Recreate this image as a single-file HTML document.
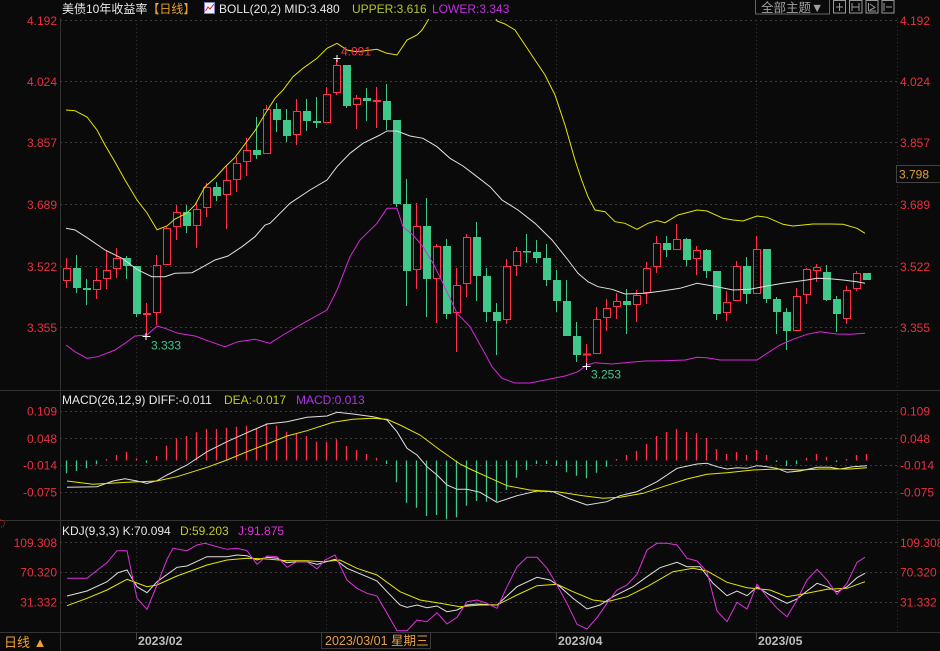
<!DOCTYPE html>
<html><head><meta charset="utf-8"><style>
html,body{margin:0;padding:0;background:#0a0a0a;}
svg{display:block;}
text{font-family:"Liberation Sans","Noto Sans CJK SC",sans-serif;font-size:12px;}
</style></head><body>
<svg width="940" height="651" viewBox="0 0 940 651" xmlns="http://www.w3.org/2000/svg">
<defs><clipPath id="cm"><rect x="60" y="19" width="837" height="371"/></clipPath>
<clipPath id="ck"><rect x="60" y="521" width="837" height="111"/></clipPath></defs>
<rect width="940" height="651" fill="#0a0a0a"/>
<!-- separators -->
<g stroke="#333" stroke-width="1" fill="none">
<path d="M0 390.5H940M0 520.5H940M0 632.5H940M60.5 18V651"/>
</g>
<!-- horizontal dashed grid -->
<g stroke="#3c3c3c" stroke-width="1" stroke-dasharray="2,3" fill="none">
<path d="M60 20.5H897M60 81.5H897M60 142.5H897M60 204.5H897M60 266.5H897M60 327.5H897"/>
<path d="M60 411.5H897M60 438.5H897M60 465.5H897M60 492.5H897"/>
<path d="M60 542.5H897M60 572.5H897M60 602.5H897"/>
</g>
<!-- vertical dotted grid -->
<g stroke="#333" stroke-width="1" stroke-dasharray="1,3" fill="none">
<path d="M136.5 20V632M326.5 20V632M556.5 20V632M756.5 20V632M897.5 18V632"/>
</g>
<g stroke="#444" stroke-width="1"><path d="M136.5 632V640M326.5 632V640M556.5 632V640M756.5 632V640"/></g>

<!-- header -->
<text x="62" y="13" fill="#e8e8e8">美债10年收益率<tspan fill="#e8a030">【日线】</tspan></text>
<rect x="204.5" y="2.5" width="10" height="11" fill="#f0f0ff" stroke="#8080c0"/>
<polyline points="205.5,11 208,7 210,9 214,4" fill="none" stroke="#e02020" stroke-width="1"/>
<text x="219" y="13" fill="#e8e8e8">BOLL(20,2) MID:3.480</text>
<text x="352" y="13" fill="#b8c428">UPPER:3.616</text>
<text x="432" y="13" fill="#c030e0">LOWER:3.343</text>
<rect x="755.5" y="-0.5" width="74" height="14.5" fill="none" stroke="#666"/>
<text x="761" y="12" fill="#a0a0a0" style="font-size:12.5px">全部主题▼</text>
<g fill="none" stroke="#999">
<rect x="833.5" y="0.5" width="12" height="12.5"/><rect x="849.5" y="0.5" width="12.5" height="12.5"/><rect x="866" y="0.5" width="12" height="12.5"/><rect x="882" y="0.5" width="12" height="12.5"/>
<path d="M839.5 3V11M836 7H843M852 3V11M859 3V11M852 7H859M868.5 3V11M868.5 11H876M870 4L875 7.5L870 10M884 3V11M886 7H892"/>
</g>

<!-- left axis labels -->
<g fill="#e8303f" text-anchor="end">
<text x="57" y="24.8">4.192</text><text x="57" y="85.8">4.024</text><text x="57" y="146.8">3.857</text><text x="57" y="208.8">3.689</text><text x="57" y="270.8">3.522</text><text x="57" y="331.8">3.355</text>
<text x="57" y="415.3">0.109</text><text x="57" y="442.8">0.048</text><text x="57" y="469.3">-0.014</text><text x="57" y="496.6">-0.075</text>
<text x="57" y="546.8">109.308</text><text x="57" y="576.6">70.320</text><text x="57" y="606.3">31.332</text>
</g>
<!-- right axis labels -->
<g fill="#e8303f">
<text x="900" y="24.8">4.192</text><text x="900" y="85.8">4.024</text><text x="900" y="146.8">3.857</text><text x="900" y="208.8">3.689</text><text x="900" y="270.8">3.522</text><text x="900" y="331.8">3.355</text>
<text x="900" y="415.3">0.109</text><text x="900" y="442.8">0.048</text><text x="900" y="469.3">-0.014</text><text x="900" y="496.6">-0.075</text>
<text x="900" y="546.8">109.308</text><text x="900" y="576.6">70.320</text><text x="900" y="606.3">31.332</text>
</g>
<rect x="896.5" y="165.5" width="44" height="17" fill="#0a0a0a" stroke="#444"/>
<text x="899" y="178.3" fill="#e8a030">3.798</text>

<!-- candles -->
<g clip-path="url(#cm)">
<path fill="none" stroke="#3ec98a" stroke-width="1" d="M76.5 255V293M86.5 279V305M126.5 256V279M136.5 266V317M186.5 205V233M216.5 182V201M256.5 117V159M276.5 103V132M286.5 109V142M306.5 99V131M316.5 97V128M346.5 65V108M366.5 88V121M386.5 84V130M396.5 120V207M406.5 179V306M426.5 198V317M446.5 239V319M476.5 222V301M486.5 268V322M496.5 303V355M526.5 234V263M536.5 240V263M546.5 244V286M556.5 270V312M566.5 280V336M576.5 322V362M626.5 289V334M666.5 236V257M686.5 238V266M706.5 249V278M716.5 271V320M746.5 257V304M766.5 249V303M776.5 297V334M786.5 308V350M826.5 265V301M836.5 296V332"/>
<g fill="#3ec98a">
<rect x="73" y="268" width="8" height="20"/><rect x="83" y="288" width="8" height="2"/><rect x="123" y="258" width="8" height="8"/><rect x="133" y="266" width="8" height="48"/><rect x="183" y="212" width="8" height="14"/><rect x="213" y="187" width="8" height="9"/><rect x="253" y="150" width="8" height="5"/><rect x="273" y="109" width="8" height="11"/><rect x="283" y="120" width="8" height="16"/><rect x="303" y="111" width="8" height="10"/><rect x="313" y="121" width="8" height="2"/><rect x="343" y="65" width="8" height="41"/><rect x="363" y="98" width="8" height="3"/><rect x="383" y="101" width="8" height="19"/><rect x="393" y="120" width="8" height="84"/><rect x="403" y="204" width="8" height="67"/><rect x="423" y="226" width="8" height="53"/><rect x="443" y="246" width="8" height="68"/><rect x="473" y="237" width="8" height="39"/><rect x="483" y="276" width="8" height="36"/><rect x="493" y="312" width="8" height="9"/><rect x="523" y="251" width="8" height="1.5"/><rect x="533" y="252" width="8" height="6"/><rect x="543" y="258" width="8" height="22"/><rect x="553" y="280" width="8" height="21"/><rect x="563" y="301" width="8" height="35"/><rect x="573" y="336" width="8" height="19"/><rect x="623" y="301" width="8" height="4"/><rect x="663" y="243" width="8" height="7"/><rect x="683" y="239" width="8" height="21"/><rect x="703" y="250" width="8" height="21"/><rect x="713" y="271" width="8" height="43"/><rect x="743" y="266" width="8" height="28"/><rect x="763" y="249" width="8" height="50"/><rect x="773" y="299" width="8" height="13"/><rect x="783" y="312" width="8" height="19"/><rect x="823" y="272" width="8" height="28"/><rect x="833" y="299" width="8" height="15"/><rect x="863" y="273" width="8" height="7"/>
</g>
<path fill="none" stroke="#ff3048" stroke-width="1" d="M66.5 258V268M66.5 281V288M96.5 268V280M96.5 290V299M106.5 251V270M106.5 279V289M116.5 248V258M116.5 269V278M146.5 303V337M156.5 255V265M156.5 313V325M166.5 227V228M176.5 205V212M176.5 227V240M196.5 203V209M196.5 226V248M206.5 183V187M206.5 208V217M226.5 165V180M226.5 195V229M236.5 157V163M236.5 180V192M246.5 138V150M246.5 162V176M266.5 105V109M296.5 99V111M296.5 135V145M326.5 87V94M336.5 60V65M336.5 93V95M356.5 95V98M356.5 105V129M376.5 87V128M416.5 203V226M416.5 270V289M436.5 244V246M436.5 279V323M456.5 268V285M456.5 313V352M466.5 234V237M466.5 284V297M506.5 259V266M506.5 320V324M516.5 247V251M516.5 266V276M586.5 344V365M596.5 307V319M606.5 299V308M606.5 318V331M616.5 293V301M616.5 307V319M636.5 290V295M636.5 305V322M646.5 262V268M646.5 293V304M656.5 236V243M656.5 267V273M676.5 224V239M696.5 246V250M696.5 259V275M726.5 291V302M726.5 313V321M736.5 261V266M756.5 236V249M796.5 288V296M806.5 268V269M806.5 295V304M816.5 264V268M816.5 270V282M846.5 286V290M846.5 319V324M856.5 271V273M856.5 289V291"/>
<g fill="none" stroke="#ff3048" stroke-width="1">
<rect x="63.5" y="268.5" width="7" height="12"/><rect x="93.5" y="280.5" width="7" height="9"/><rect x="103.5" y="270.5" width="7" height="8"/><rect x="113.5" y="258.5" width="7" height="10"/><rect x="153.5" y="265.5" width="7" height="47"/><rect x="163.5" y="228.5" width="7" height="36"/><rect x="173.5" y="212.5" width="7" height="14"/><rect x="193.5" y="209.5" width="7" height="16"/><rect x="203.5" y="187.5" width="7" height="20"/><rect x="223.5" y="180.5" width="7" height="14"/><rect x="233.5" y="163.5" width="7" height="16"/><rect x="243.5" y="150.5" width="7" height="11"/><rect x="263.5" y="109.5" width="7" height="44"/><rect x="293.5" y="111.5" width="7" height="23"/><rect x="323.5" y="94.5" width="7" height="28"/><rect x="333.5" y="65.5" width="7" height="27"/><rect x="353.5" y="98.5" width="7" height="6"/><rect x="413.5" y="226.5" width="7" height="43"/><rect x="433.5" y="246.5" width="7" height="32"/><rect x="453.5" y="285.5" width="7" height="27"/><rect x="463.5" y="237.5" width="7" height="46"/><rect x="503.5" y="266.5" width="7" height="53"/><rect x="513.5" y="251.5" width="7" height="14"/><rect x="593.5" y="319.5" width="7" height="34"/><rect x="603.5" y="308.5" width="7" height="9"/><rect x="613.5" y="301.5" width="7" height="5"/><rect x="633.5" y="295.5" width="7" height="9"/><rect x="643.5" y="268.5" width="7" height="24"/><rect x="653.5" y="243.5" width="7" height="23"/><rect x="673.5" y="239.5" width="7" height="10"/><rect x="693.5" y="250.5" width="7" height="8"/><rect x="723.5" y="302.5" width="7" height="10"/><rect x="733.5" y="266.5" width="7" height="34"/><rect x="753.5" y="249.5" width="7" height="44"/><rect x="793.5" y="296.5" width="7" height="34"/><rect x="803.5" y="269.5" width="7" height="25"/><rect x="813.5" y="267.5" width="7" height="3"/><rect x="843.5" y="290.5" width="7" height="28"/><rect x="853.5" y="273.5" width="7" height="15"/>
</g>
<g fill="#ff3048"><rect x="143" y="313" width="8" height="2"/><rect x="373" y="100" width="8" height="2"/><rect x="583" y="353.5" width="8" height="2"/></g>

<!-- BOLL lines -->
<polyline fill="none" stroke="#e6e600" stroke-width="1" points="66,110 75,110.7 87,117 97,130 105,145 115,162 125,180 137,200 147,213 157,229.7 167,226 175,219 187,213 195,205 205,186.7 215,178 225,167 235,157.3 245,144 255,130.7 265,114 275,98.3 283,90 293,76.7 303,68.3 317,58.3 327,48.3 337,43.3 347,50 357,51.7 377,49.3 387,53.3 397,55 407,40 417,35 422,30 427,22 435,8 450,-10 485,-10 492,10 497,21 505,24 515,30 525,45 535,60 545,75 555,95 565,125 575,160 582,181 588,196.7 595,210 605,211.7 615,221.7 625,223.3 637,229.3 648,223.3 657,220.7 665,222.7 678,215 697,210 707,211 723,218.3 733,220 743,221 757,216 767,217.3 783,224.3 793,226 813,224 830,224 843,224.3 857,228.3 865,233.3"/>
<polyline fill="none" stroke="#e0e0e0" stroke-width="1" points="66,228.3 75,230 88,238.3 105,250 122,258.3 138,270 152,276.7 165,276.7 175,273.3 192,272.7 202,267.3 215,260 228,256 242,246.7 255,236.7 265,225 270,223.3 290,203.3 310,190 327,180 337,166.7 350,153.3 363,143.3 380,135 387,131 397,131 410,136 423,138.3 437,146.7 450,158.3 463,166 477,176.7 490,186.7 502,200 518,210 535,223.3 552,240 568,260 578,273.3 588,281.7 598,286.7 612,289.3 625,294 645,293.3 662,291 680,288.3 697,283.3 713,286 733,290 750,289.3 767,286 783,283.3 807,280 817,278.3 830,278.7 843,280 857,281.7 865,283.3"/>
<polyline fill="none" stroke="#d828d8" stroke-width="1" points="66,345 75,351.7 87,358.3 98,356.7 115,350 125,343.3 135,336 147,335 157,326 165,328.3 178,333.3 195,336 212,342.3 225,346.7 238,341.7 255,339.3 270,343.3 283,335 303,323.3 327,310 337,290 350,256.7 360,240 377,223.3 387,208.3 397,208.3 403,226.7 413,235 423,246.7 433,263.3 443,283.3 457,313.3 470,326.7 483,350 492,366.7 502,378.3 515,383 530,383 550,379 565,376 578,371.7 587,365 595,362.7 612,364 625,362.7 645,361 665,360.7 685,360 697,357.3 707,357.7 720,360 757,360 767,353.3 780,345 793,339.3 807,334.3 820,331.7 837,334 850,334.3 865,333.3"/>
</g>
<!-- annotations -->
<text x="341" y="55.7" fill="#ff3048">4.091</text>
<path d="M333.5 58.5H340.5M337 55V62" stroke="#fff" stroke-width="1"/>
<text x="151" y="349.3" fill="#3ec98a">3.333</text>
<path d="M142.5 336.5H150.5M146 333V340" stroke="#fff" stroke-width="1"/>
<text x="591" y="378.7" fill="#3ec98a">3.253</text>
<path d="M582.5 366.5H590.5M586.5 363V370" stroke="#fff" stroke-width="1"/>

<!-- MACD -->
<text x="62" y="404" fill="#e8e8e8">MACD(26,12,9) DIFF:-0.011</text>
<text x="224" y="404" fill="#c8c820">DEA:-0.017</text>
<text x="296" y="404" fill="#b030e8">MACD:0.013</text>
<path fill="none" stroke="#ff3048" stroke-width="1.3" d="M106.5 460.5V459M116.5 460.5V455M126.5 460.5V451.7M136.5 460.5V458.3M156.5 460.5V456M166.5 460.5V445.7M176.5 460.5V438.3M186.5 460.5V436M196.5 460.5V432.3M206.5 460.5V429M216.5 460.5V429M226.5 460.5V427.7M236.5 460.5V426.7M246.5 460.5V425.7M256.5 460.5V428.3M266.5 460.5V423.3M276.5 460.5V425.7M286.5 460.5V431.7M296.5 460.5V433.3M306.5 460.5V436M316.5 460.5V441.7M326.5 460.5V441.7M336.5 460.5V439.3M346.5 460.5V446M356.5 460.5V450M366.5 460.5V454M376.5 460.5V457.7M616.5 460.5V459M626.5 460.5V455M636.5 460.5V451M646.5 460.5V444M656.5 460.5V436M666.5 460.5V432M676.5 460.5V429M686.5 460.5V432M696.5 460.5V433.3M706.5 460.5V438M716.5 460.5V449M726.5 460.5V454M736.5 460.5V452M746.5 460.5V455M756.5 460.5V450M766.5 460.5V455M806.5 460.5V457.7M816.5 460.5V454M826.5 460.5V456.7M846.5 460.5V459M856.5 460.5V455M866.5 460.5V454"/>
<path fill="none" stroke="#3ec98a" stroke-width="1.3" d="M66.5 460.5V473.3M76.5 460.5V471M86.5 460.5V468.3M96.5 460.5V464.3M146.5 460.5V462.7M386.5 460.5V464M396.5 460.5V482.3M406.5 460.5V502.7M416.5 460.5V507.7M426.5 460.5V516M436.5 460.5V515M446.5 460.5V519.3M456.5 460.5V517.3M466.5 460.5V505.7M476.5 460.5V501M486.5 460.5V501.7M496.5 460.5V501M506.5 460.5V490M516.5 460.5V477.7M526.5 460.5V470M536.5 460.5V464M546.5 460.5V464M556.5 460.5V466M566.5 460.5V472.3M576.5 460.5V475.7M586.5 460.5V478.3M596.5 460.5V472.7M606.5 460.5V466.7M776.5 460.5V462M786.5 460.5V466M796.5 460.5V464.3M836.5 460.5V462"/>
<polyline fill="none" stroke="#e0e0e0" stroke-width="1" points="67,487.3 97,486.7 113,481 125,478.7 137,481 147,483.3 157,480.7 167,475 187,465 207,451.7 227,441.7 247,432.7 267,424 287,421.7 307,417.3 327,416 337,412.3 353,414 373,416.7 387,420 397,431.7 407,448.3 417,455 427,466.7 437,475 447,485 457,489.3 467,489.3 480,492.3 497,502.3 517,495.7 537,491 553,491.7 570,499 587,505 607,501.7 620,495.7 637,491.7 657,481.7 677,468.3 697,464 707,463.3 717,466.7 727,469 737,467.7 747,468.3 757,465.7 767,466.7 777,468.3 787,472.3 800,471 817,467.3 830,467.3 840,469 853,466.7 867,465.7"/>
<polyline fill="none" stroke="#e6e600" stroke-width="1" points="67,481 93,484.3 127,482.3 157,481 177,476.7 207,467.3 227,460 247,451.7 267,444 287,436 307,430.7 333,422.3 353,419.3 373,418.3 387,419.3 400,425 420,435 440,450 460,464 470,469 487,476.7 507,485.7 530,490 557,491.7 583,495.7 603,498.3 620,497.3 643,493.3 663,486.7 687,479 707,474.3 727,472.7 753,470 777,469 800,470 820,469 850,469 867,467.7"/>

<!-- KDJ -->
<circle cx="1" cy="523.5" r="3.5" fill="none" stroke="#e03030" stroke-dasharray="1,1.2"/>
<text x="62" y="535" fill="#e8e8e8">KDJ(9,3,3) K:70.094</text>
<text x="180" y="535" fill="#c8c820">D:59.203</text>
<text x="238" y="535" fill="#e030e0">J:91.875</text>
<g clip-path="url(#ck)" fill="none" stroke-width="1">
<polyline stroke="#e0e0e0" points="67,596 87,591 107,581.7 118,572.7 127,570 137,586.7 147,592.7 157,581.7 177,567.3 187,566 207,556.7 227,556.7 237,555 247,555.7 257,560 267,557.3 277,558.3 287,562.7 297,561.7 307,561.7 317,564.3 335,559.3 347,568.3 367,576.7 377,581 387,591.7 400,605 407,607.3 417,605 427,607.7 437,606 447,611.7 457,610 467,605 477,604 497,605 517,586.7 537,577.3 550,580 560,586.7 573,598.3 587,609 600,605 613,596.7 633,586.7 647,576.7 660,567.7 677,562.3 687,566.7 700,566.7 713,583.3 727,595.7 737,591 747,595.7 757,587 770,595 787,603.3 797,599 807,591 817,583.3 827,586.7 837,591.7 847,586.7 857,577.7 865,573.3"/>
<polyline stroke="#e6e600" points="67,605.7 87,598.3 107,590 127,579.3 147,586.7 157,585 177,576 207,565 227,560 247,558.3 267,559 287,560.7 307,560.7 323,561.7 340,560 357,568.3 377,575 400,591.7 420,600 440,603.3 460,606.7 480,605 497,605 517,595 537,585.7 557,584.3 573,591.7 593,600 607,601.7 627,596.7 647,586.7 673,571.7 693,568.3 707,571 727,582.3 747,587.7 770,590 787,596.7 807,593.3 827,589.3 847,588.3 865,581.7"/>
<polyline stroke="#e030e0" points="67,578.3 87,578.3 107,562.7 117,550.7 127,550.7 137,598.3 147,609.3 157,585 167,559.3 173,548.3 187,550.7 197,545 205,543.3 217,546.7 227,549.3 237,548.3 247,550.7 257,564.3 267,556 277,556.7 287,567.3 297,561.7 307,561.7 317,569 325,560 335,555 347,580 357,588.3 367,593.3 377,596 387,613.3 397,630.7 407,630.7 417,620 427,621.7 437,612.7 447,624 457,617.3 467,601.7 477,600 487,603.3 497,608.3 507,586.7 517,566.7 527,557.3 537,557.3 547,568.3 557,585 567,603.3 577,624.3 587,629 597,617.7 607,603.3 617,590 627,585 637,574.3 647,550 657,543.3 667,543.3 677,545 687,558.3 697,561 707,571.7 717,611 727,621.7 737,602.3 747,609 757,584.3 767,596.7 777,608.3 787,616.7 797,600 807,580 817,569.3 827,580 837,594.3 847,583.3 857,562.3 865,557.3"/>
</g>

<!-- bottom date row -->
<text x="4" y="647" fill="#f0a030" style="font-size:13px">日线 ▲</text>
<text x="138" y="645" fill="#bdbdbd" font-weight="bold" style="font-size:12.3px">2023/02</text>
<rect x="321.5" y="632.5" width="109" height="16" fill="#0a0a0a" stroke="#3a3a3a"/>
<text x="325" y="645" fill="#e8a040" style="font-size:12.5px">2023/03/01 星期三</text>
<text x="558" y="645" fill="#bdbdbd" font-weight="bold" style="font-size:12.3px">2023/04</text>
<text x="758" y="645" fill="#bdbdbd" font-weight="bold" style="font-size:12.3px">2023/05</text>
</svg>
</body></html>
